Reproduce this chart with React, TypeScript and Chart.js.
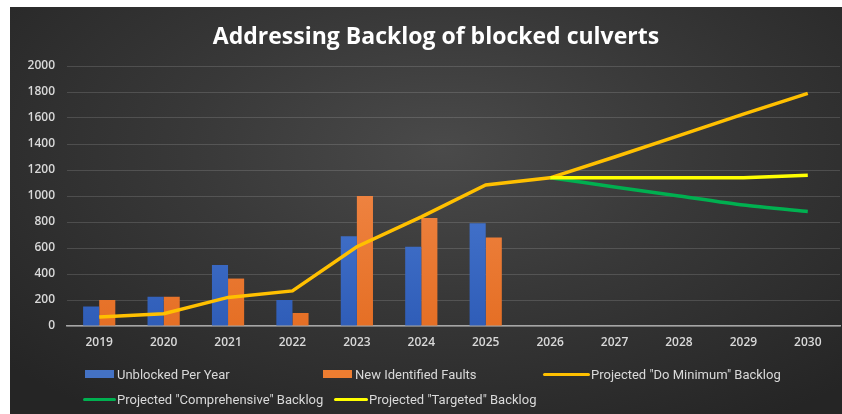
import React, { useEffect, useRef } from "react";
import { Chart, registerables } from "chart.js";

Chart.register(...registerables);

const years = ["2019", "2020", "2021", "2022", "2023", "2024", "2025", "2026", "2027", "2028", "2029", "2030"];
const unblockedPerYear = [150, 225, 470, 200, 690, 610, 790, null, null, null, null, null];
const newIdentifiedFaults = [200, 225, 365, 100, 1000, 830, 680, null, null, null, null, null];
const doMinimumBacklog = [70, 95, 220, 270, 610, 840, 1085, 1140, 1300, 1465, 1630, 1790];
const comprehensiveBacklog = [null, null, null, null, null, null, null, 1140, 1070, 1000, 930, 880];
const targetedBacklog = [null, null, null, null, null, null, null, 1140, 1140, 1140, 1140, 1160];
const yMin = 0;
const yMax = 2000;
const yStep = 200;

const seriesNames = [
  "Unblocked Per Year",
  "New Identified Faults",
  'Projected "Do Minimum" Backlog',
  'Projected "Comprehensive" Backlog',
  'Projected "Targeted" Backlog',
];
const TITLE = "Addressing Backlog of blocked culverts";

const BLUE = "#4472C4";
const ORANGE = "#ED7D31";
const GOLD = "#FFC000";
const GREEN = "#00B050";
const YELLOW = "#FFFF00";

const TICK_FONT = "'Open Sans', Roboto, sans-serif";
const LEGEND_FONT = "Roboto, 'Open Sans', sans-serif";

function barGradient(ctx: any, top: string, bottom: string) {
  const chart = ctx.chart;
  const area = chart.chartArea;
  if (!area) return bottom;
  const g = chart.ctx.createLinearGradient(0, area.top, 0, area.bottom);
  g.addColorStop(0, top);
  g.addColorStop(1, bottom);
  return g;
}

const legendItems = [
  { name: seriesNames[0], color: BLUE, kind: "box", left: 75, top: 360, w: 29, gap: 3 },
  { name: seriesNames[1], color: ORANGE, kind: "box", left: 313, top: 360, w: 29, gap: 3 },
  { name: seriesNames[2], color: GOLD, kind: "line", left: 533, top: 360, w: 47, gap: 1 },
  { name: seriesNames[3], color: GREEN, kind: "line", left: 73, top: 385, w: 33, gap: 1 },
  { name: seriesNames[4], color: YELLOW, kind: "line", left: 324, top: 385, w: 34, gap: 1 },
];

export default function App() {
  const canvasRef = useRef<HTMLCanvasElement | null>(null);

  useEffect(() => {
    const canvas = canvasRef.current;
    if (!canvas) return;
    const chart = new Chart(canvas, {
      data: {
        labels: years,
        datasets: [
          {
            type: "bar",
            label: seriesNames[0],
            data: unblockedPerYear,
            backgroundColor: (c: any) => barGradient(c, "#5A8BE0", "#2F5DB8"),
            barPercentage: 1,
            categoryPercentage: 0.5,
            order: 4,
          },
          {
            type: "bar",
            label: seriesNames[1],
            data: newIdentifiedFaults,
            backgroundColor: (c: any) => barGradient(c, "#F7955A", "#E56F25"),
            barPercentage: 1,
            categoryPercentage: 0.5,
            order: 5,
          },
          {
            type: "line",
            label: seriesNames[2],
            data: doMinimumBacklog,
            borderColor: GOLD,
            backgroundColor: GOLD,
            borderWidth: 3.5,
            pointRadius: 0,
            tension: 0,
            order: 3,
          },
          {
            type: "line",
            label: seriesNames[3],
            data: comprehensiveBacklog,
            borderColor: GREEN,
            backgroundColor: GREEN,
            borderWidth: 3.5,
            pointRadius: 0,
            tension: 0.2,
            order: 2,
          },
          {
            type: "line",
            label: seriesNames[4],
            data: targetedBacklog,
            borderColor: YELLOW,
            backgroundColor: YELLOW,
            borderWidth: 3.5,
            pointRadius: 0,
            tension: 0,
            order: 1,
          },
        ],
      } as any,
      options: {
        animation: false,
        responsive: true,
        maintainAspectRatio: false,
        layout: { padding: { left: 0, right: 2, top: 59, bottom: 0 } },
        plugins: {
          legend: { display: false },
          tooltip: { enabled: false },
          title: { display: false },
        },
        scales: {
          x: {
            grid: { display: false, drawTicks: false },
            border: { display: true, color: "#A6A6A6", width: 1.5 },
            ticks: {
              color: "#D9D9D9",
              font: { family: TICK_FONT, size: 12, weight: "600" },
              padding: 9,
              maxRotation: 0,
            },
            afterFit: (s: any) => {
              s.height = 88;
            },
          },
          y: {
            min: yMin,
            max: yMax,
            ticks: {
              stepSize: yStep,
              color: "#D9D9D9",
              font: { family: TICK_FONT, size: 12, weight: "600" },
              padding: 12,
              callback: (v: any) => String(v),
            },
            grid: { color: "rgba(255,255,255,0.14)", lineWidth: 1, drawTicks: false },
            border: { display: false },
            afterFit: (s: any) => {
              s.width = 57;
            },
          },
        },
      } as any,
    });
    return () => chart.destroy();
  }, []);

  return (
    <div
      style={{
        position: "absolute",
        left: 10,
        top: 7,
        width: 832,
        height: 407,
        background: "radial-gradient(ellipse 70% 80% at 52% 35%, #4a4a4a 0%, #383838 45%, #252525 100%)",
      }}
    >
      <div
        style={{
          position: "absolute",
          left: 20,
          top: 14,
          width: 812,
          textAlign: "center",
          color: "#FFFFFF",
          fontFamily: TICK_FONT,
          fontWeight: "bold",
          fontSize: 23,
          lineHeight: "28px",
          whiteSpace: "nowrap",
        }}
      >
        {TITLE}
      </div>
      <canvas ref={canvasRef} />
      {legendItems.map((it) => (
        <div
          key={it.name}
          style={{
            position: "absolute",
            left: it.left,
            top: it.top,
            height: 14,
            display: "flex",
            alignItems: "center",
            color: "#D9D9D9",
            fontFamily: LEGEND_FONT,
            fontSize: 13,
            whiteSpace: "nowrap",
          }}
        >
          <span
            style={{
              display: "inline-block",
              width: it.w,
              height: it.kind === "box" ? 8 : 3,
              borderRadius: it.kind === "box" ? 0 : 2,
              background: it.color,
              marginRight: it.gap,
            }}
          />
          <span>{it.name}</span>
        </div>
      ))}
    </div>
  );
}
